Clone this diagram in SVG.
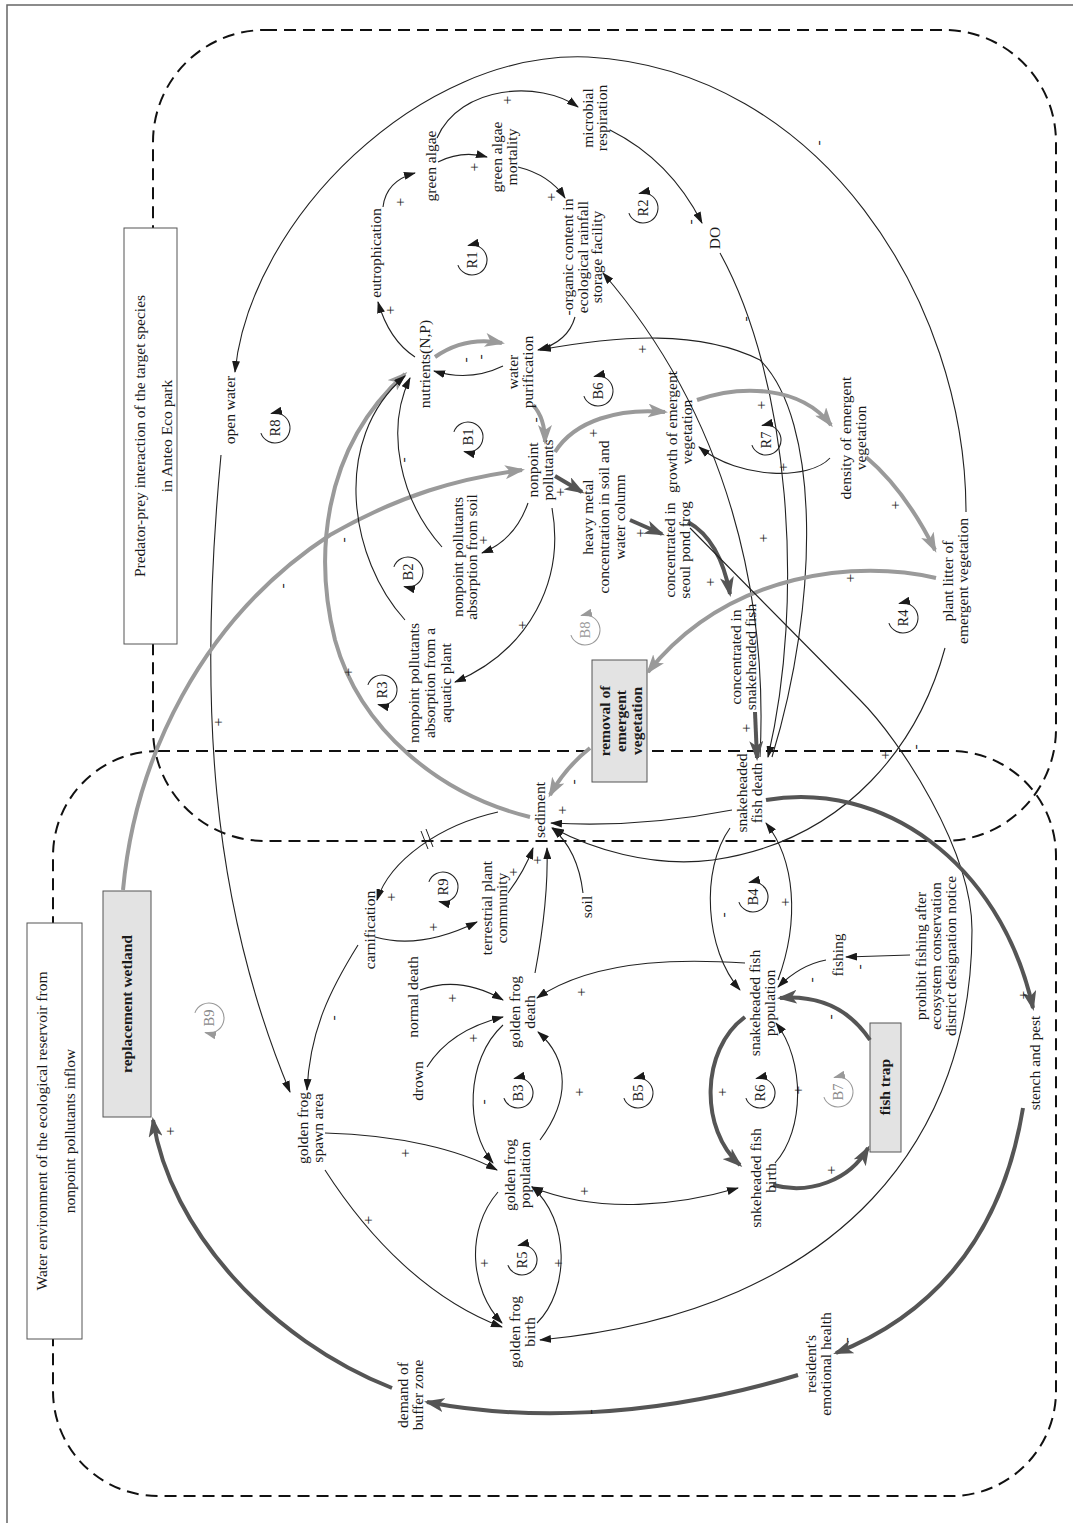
<svg xmlns="http://www.w3.org/2000/svg" width="1073" height="1523" viewBox="0 0 1073 1523">
<style>
.t{font-family:"Liberation Serif","Times New Roman",serif;font-size:15.5px;fill:#1a1a1a;text-anchor:middle}
.b{font-weight:bold}
.lp{font-size:14.5px}
.th{fill:none;stroke:#222;stroke-width:1.1;marker-end:url(#ah)}
.gr{fill:none;stroke:#9a9a9a;stroke-width:4;marker-end:url(#ag)}
.dk{fill:none;stroke:#555;stroke-width:4;marker-end:url(#ad)}
.ds{fill:none;stroke:#111;stroke-width:2;stroke-dasharray:12 7}
.box{fill:#fff;stroke:#555;stroke-width:1}
.gbox{fill:#e3e3e3;stroke:#555;stroke-width:1}
.lpa{fill:none;stroke:#222;stroke-width:1.1;marker-end:url(#ah)}
.lpg{fill:none;stroke:#999;stroke-width:1.1;marker-end:url(#ahg)}
</style>
<defs>
<marker id="ah" markerWidth="12" markerHeight="8" refX="11" refY="4" orient="auto" markerUnits="userSpaceOnUse"><path d="M0,0 L12,4 L0,8 z" fill="#1a1a1a"/></marker>
<marker id="ahs" markerWidth="12" markerHeight="8" refX="11" refY="4" orient="auto-start-reverse" markerUnits="userSpaceOnUse"><path d="M0,0 L12,4 L0,8 z" fill="#1a1a1a"/></marker>
<marker id="ahg" markerWidth="12" markerHeight="8" refX="11" refY="4" orient="auto" markerUnits="userSpaceOnUse"><path d="M0,0 L12,4 L0,8 z" fill="#999"/></marker>
<marker id="ag" markerWidth="20" markerHeight="14" refX="17" refY="7" orient="auto" markerUnits="userSpaceOnUse"><path d="M0,0 L20,7 L0,14 L5,7 z" fill="#9a9a9a"/></marker>
<marker id="ad" markerWidth="20" markerHeight="14" refX="17" refY="7" orient="auto" markerUnits="userSpaceOnUse"><path d="M0,0 L20,7 L0,14 L5,7 z" fill="#555"/></marker>
<path id="loopA" d="M-14.1,5.1 A15,15 0 1 0 -3.9,-14.5"/>
<path id="loopB" d="M-14.1,-5.1 A15,15 0 1 1 -3.9,14.5"/>
</defs>
<rect x="7" y="5" width="1070" height="1530" fill="#fff" stroke="#666" stroke-width="1.5"/>

<g id="regions">
<rect class="ds" x="153" y="30" width="903" height="811" rx="112" ry="112"/>
<rect class="ds" x="53" y="751" width="1003" height="745" rx="105" ry="105"/>
</g>

<g id="box-predator"><rect class="box" x="124" y="228" width="53" height="416"/>
<text class="t" transform="translate(145,436) rotate(-90)"><tspan x="0">Predator-prey interaction of the target species</tspan><tspan x="0" dy="27">in Anteo Eco park</tspan></text></g>
<g id="box-water"><rect class="box" x="27" y="923" width="55" height="416"/>
<text class="t" transform="translate(47,1131) rotate(-90)"><tspan x="0">Water environment of the ecological reservoir from</tspan><tspan x="0" dy="28">nonpoint pollutants inflow</tspan></text></g>
<g id="box-wetland"><rect class="gbox" x="103" y="891" width="48" height="226"/>
<text class="t b" transform="translate(132,1004) rotate(-90)">replacement wetland</text></g>
<g id="box-removal"><rect class="gbox" x="592" y="660" width="55" height="122"/>
<text class="t b" transform="translate(610,721) rotate(-90)"><tspan x="0">removal of</tspan><tspan x="0" dy="16">emergent</tspan><tspan x="0" dy="16">vegetation</tspan></text></g>
<g id="box-fishtrap"><rect class="gbox" x="870" y="1023" width="31" height="129"/>
<text class="t b" transform="translate(890,1087) rotate(-90)">fish trap</text></g>

<g id="connectors">
<path class="th" d="M383,207 Q386,181 415,173"/>
<path class="th" d="M415,357 Q389,340 378,302"/>
<path class="th" d="M438,162 Q462,150 487,157"/>
<path class="th" d="M437,138 C460,85 540,80 578,107"/>
<path class="th" d="M518,167 Q550,175 565,198"/>
<path class="th" d="M610,130 Q670,160 702,223"/>
<path class="th" d="M575,317 Q568,342 538,350"/>
<path class="th" d="M503,366 Q470,382 434,371"/>
<path class="gr" d="M435,357 Q465,336 502,343"/>
<path class="th" d="M966,512 C966,300 820,70 588,57 C420,50 250,220 235,372"/>
<path class="th" d="M221,455 C198,700 210,900 290,1092"/>
<path class="th" d="M720,253 C790,380 805,600 768,757"/>
<path class="th" d="M760,757 C768,600 730,420 603,273"/>
<path class="th" d="M772,757 C820,600 820,420 760,360 C700,330 620,335 540,350"/>
<path class="gr" d="M533,405 Q545,418 545,442"/>
<path class="gr" d="M555,452 C575,420 620,408 665,412"/>
<path class="gr" d="M697,400 C740,385 800,385 831,425"/>
<path class="th" d="M830,458 C810,480 740,480 699,447"/>
<path class="gr" d="M866,457 Q905,490 935,550"/>
<path class="gr" d="M936,578 C860,560 730,570 648,672"/>
<path class="gr" d="M590,748 Q565,768 550,795"/>
<path class="gr" d="M530,817 C440,795 360,730 335,640 C315,560 320,450 405,374"/>
<path class="gr" d="M123,890 C135,760 200,620 330,535 C400,495 460,478 522,470"/>
<path class="th" d="M528,503 Q515,540 482,553"/>
<path class="th" d="M442,547 C400,500 385,430 410,378"/>
<path class="th" d="M405,620 C350,560 330,440 405,376"/>
<path class="th" d="M552,508 C565,580 530,650 455,682"/>
<path class="dk" d="M555,476 L582,492"/>
<path class="dk" d="M630,520 L662,534"/>
<path class="dk" d="M688,522 Q720,540 730,594"/>
<path class="dk" d="M755,712 L757,758"/>
<path class="th" d="M690,528 L860,700 C900,740 972,850 972,930 C972,1130 850,1310 540,1340"/>
<path class="th" d="M945,648 C920,740 850,840 713,860 C650,868 590,848 553,828"/>
<path class="th" d="M732,810 Q640,828 551,823"/>
<path class="th" d="M583,893 Q578,850 552,828"/>
<path class="th" d="M508,893 Q525,870 533,848"/>
<path class="th" d="M535,973 C545,920 548,880 547,848"/>
<path class="th" d="M498,812 C440,825 390,860 377,900"/>
<path fill="none" stroke="#222" stroke-width="1" d="M421,831 L428,849 M426,829 L433,847"/>
<path class="th" d="M375,937 Q420,950 477,922"/>
<path class="th" d="M358,945 C330,990 310,1030 307,1090"/>
<path class="th" d="M325,1133 C400,1135 460,1150 497,1170"/>
<path class="th" d="M325,1170 C370,1240 430,1300 502,1327"/>
<path class="th" d="M420,990 Q460,975 503,1000"/>
<path class="th" d="M427,1067 Q450,1030 503,1017"/>
<path class="th" d="M503,1025 C465,1060 465,1130 493,1163"/>
<path class="th" d="M540,1140 C570,1100 570,1060 538,1032"/>
<path class="th" d="M498,1192 C465,1230 470,1290 502,1323"/>
<path class="th" d="M537,1323 C570,1290 570,1220 532,1187"/>
<path fill="none" stroke="#222" stroke-width="1.1" marker-start="url(#ahs)" marker-end="url(#ahs)" d="M532,1187 C600,1215 680,1205 738,1188"/>
<path class="th" d="M745,963 C700,960 600,955 537,998"/>
<path class="th" d="M730,828 C700,870 705,950 740,990"/>
<path class="th" d="M778,980 C800,920 795,860 766,823"/>
<path class="th" d="M826,960 Q800,965 778,987"/>
<path class="th" d="M910,955 L846,957"/>
<path class="dk" d="M870,1040 C850,1010 820,995 780,998"/>
<path class="dk" d="M745,1017 C700,1050 700,1130 740,1165"/>
<path class="th" d="M775,1163 C805,1130 805,1060 776,1023"/>
<path class="dk" d="M773,1185 C810,1195 850,1180 868,1148"/>
<path class="dk" d="M766,800 C880,780 1000,860 1033,1008"/>
<path class="dk" d="M1023,1108 C1000,1250 920,1320 836,1353"/>
<path class="dk" d="M798,1375 C650,1420 520,1420 427,1402"/>
<path class="dk" d="M392,1388 C270,1340 170,1230 153,1120"/>
</g>

<g id="signs" class="t">
<text transform="translate(405,202) rotate(-90)">+</text>
<text transform="translate(395,310) rotate(-90)">+</text>
<text transform="translate(479,167) rotate(-90)">+</text>
<text transform="translate(512,100) rotate(-90)">+</text>
<text transform="translate(556,197) rotate(-90)">+</text>
<text transform="translate(695,222) rotate(-90)">-</text>
<text transform="translate(470,360) rotate(-90)">-</text>
<text transform="translate(485,357) rotate(-90)">-</text>
<text transform="translate(823,143) rotate(-90)">-</text>
<text transform="translate(223,722) rotate(-90)">+</text>
<text transform="translate(750,319) rotate(-90)">-</text>
<text transform="translate(647,349) rotate(-90)">+</text>
<text transform="translate(768,538) rotate(-90)">+</text>
<text transform="translate(540,420) rotate(-90)">-</text>
<text transform="translate(598,433) rotate(-90)">+</text>
<text transform="translate(766,405) rotate(-90)">+</text>
<text transform="translate(788,467) rotate(-90)">+</text>
<text transform="translate(900,505) rotate(-90)">+</text>
<text transform="translate(855,578) rotate(-90)">+</text>
<text transform="translate(578,782) rotate(-90)">-</text>
<text transform="translate(353,672) rotate(-90)">+</text>
<text transform="translate(287,586) rotate(-90)">-</text>
<text transform="translate(488,540) rotate(-90)">+</text>
<text transform="translate(408,460) rotate(-90)">-</text>
<text transform="translate(348,540) rotate(-90)">-</text>
<text transform="translate(527,625) rotate(-90)">+</text>
<text transform="translate(565,492) rotate(-90)">+</text>
<text transform="translate(645,533) rotate(-90)">+</text>
<text transform="translate(715,582) rotate(-90)">+</text>
<text transform="translate(751,728) rotate(-90)">+</text>
<text transform="translate(920,747) rotate(-90)">-</text>
<text transform="translate(890,755) rotate(-90)">+</text>
<text transform="translate(567,810) rotate(-90)">+</text>
<text transform="translate(518,872) rotate(-90)">+</text>
<text transform="translate(542,860) rotate(-90)">+</text>
<text transform="translate(396,897) rotate(-90)">+</text>
<text transform="translate(438,927) rotate(-90)">+</text>
<text transform="translate(338,1018) rotate(-90)">-</text>
<text transform="translate(410,1153) rotate(-90)">+</text>
<text transform="translate(373,1220) rotate(-90)">+</text>
<text transform="translate(457,998) rotate(-90)">+</text>
<text transform="translate(478,1038) rotate(-90)">+</text>
<text transform="translate(488,1102) rotate(-90)">-</text>
<text transform="translate(584,1092) rotate(-90)">+</text>
<text transform="translate(489,1263) rotate(-90)">+</text>
<text transform="translate(563,1263) rotate(-90)">+</text>
<text transform="translate(589,1191) rotate(-90)">+</text>
<text transform="translate(586,992) rotate(-90)">+</text>
<text transform="translate(728,915) rotate(-90)">-</text>
<text transform="translate(790,902) rotate(-90)">+</text>
<text transform="translate(816,980) rotate(-90)">-</text>
<text transform="translate(864,967) rotate(-90)">-</text>
<text transform="translate(835,1017) rotate(-90)">-</text>
<text transform="translate(727,1092) rotate(-90)">+</text>
<text transform="translate(803,1090) rotate(-90)">+</text>
<text transform="translate(836,1170) rotate(-90)">+</text>
<text transform="translate(1028,995) rotate(-90)">+</text>
<text transform="translate(851,1340) rotate(-90)">-</text>
<text transform="translate(595,1412) rotate(-90)">-</text>
<text transform="translate(175,1131) rotate(-90)">+</text>
</g>

<g id="loops">
<g id="loop-R1"><use href="#loopA" class="lpa" transform="translate(472,260)"/><text class="t lp" transform="translate(477,260) rotate(-90)">R1</text></g>
<g id="loop-R2"><use href="#loopA" class="lpa" transform="translate(643,208)"/><text class="t lp" transform="translate(648,208) rotate(-90)">R2</text></g>
<g id="loop-B1"><use href="#loopB" class="lpa" transform="translate(468,437)"/><text class="t lp" transform="translate(473,437) rotate(-90)">B1</text></g>
<g id="loop-B2"><use href="#loopB" class="lpa" transform="translate(408,572)"/><text class="t lp" transform="translate(413,572) rotate(-90)">B2</text></g>
<g id="loop-R3"><use href="#loopB" class="lpa" transform="translate(382,690)"/><text class="t lp" transform="translate(387,690) rotate(-90)">R3</text></g>
<g id="loop-B8"><use href="#loopA" class="lpg" transform="translate(585,630)"/><text class="t lp" transform="translate(590,630) rotate(-90)" style="fill:#999">B8</text></g>
<g id="loop-B6"><use href="#loopA" class="lpa" transform="translate(598,391)"/><text class="t lp" transform="translate(603,391) rotate(-90)">B6</text></g>
<g id="loop-R7"><use href="#loopA" class="lpa" transform="translate(766,440)"/><text class="t lp" transform="translate(771,440) rotate(-90)">R7</text></g>
<g id="loop-R4"><use href="#loopA" class="lpa" transform="translate(903,618)"/><text class="t lp" transform="translate(908,618) rotate(-90)">R4</text></g>
<g id="loop-R8"><use href="#loopA" class="lpa" transform="translate(275,428)"/><text class="t lp" transform="translate(280,428) rotate(-90)">R8</text></g>
<g id="loop-R9"><use href="#loopB" class="lpa" transform="translate(443,887)"/><text class="t lp" transform="translate(448,887) rotate(-90)">R9</text></g>
<g id="loop-B3"><use href="#loopA" class="lpa" transform="translate(518,1093)"/><text class="t lp" transform="translate(523,1093) rotate(-90)">B3</text></g>
<g id="loop-B5"><use href="#loopA" class="lpa" transform="translate(638,1093)"/><text class="t lp" transform="translate(643,1093) rotate(-90)">B5</text></g>
<g id="loop-B4"><use href="#loopA" class="lpa" transform="translate(753,897)"/><text class="t lp" transform="translate(758,897) rotate(-90)">B4</text></g>
<g id="loop-R6"><use href="#loopA" class="lpa" transform="translate(760,1093)"/><text class="t lp" transform="translate(765,1093) rotate(-90)">R6</text></g>
<g id="loop-B7"><use href="#loopA" class="lpg" transform="translate(838,1092)"/><text class="t lp" transform="translate(843,1092) rotate(-90)" style="fill:#888">B7</text></g>
<g id="loop-R5"><use href="#loopA" class="lpa" transform="translate(522,1260)"/><text class="t lp" transform="translate(527,1260) rotate(-90)">R5</text></g>
<g id="loop-B9"><use href="#loopB" class="lpg" transform="translate(209,1018)"/><text class="t lp" transform="translate(214,1018) rotate(-90)" style="fill:#888">B9</text></g>
</g>

<g id="nodes">
<g id="n-eutro"><text class="t" transform="translate(381,253) rotate(-90)">eutrophication</text></g>
<g id="n-algae"><text class="t" transform="translate(436,166) rotate(-90)">green algae</text></g>
<g id="n-mort"><text class="t" transform="translate(502,157) rotate(-90)"><tspan x="0">green algae</tspan><tspan x="0" dy="15">mortality</tspan></text></g>
<g id="n-micro"><text class="t" transform="translate(593,118) rotate(-90)"><tspan x="0">microbial</tspan><tspan x="0" dy="14">respiration</tspan></text></g>
<g id="n-org"><text class="t" transform="translate(573,257) rotate(-90)"><tspan x="0">-organic content in</tspan><tspan x="0" dy="14.5">ecological rainfall</tspan><tspan x="0" dy="14.5">storage facility</tspan></text></g>
<g id="n-do"><text class="t" transform="translate(720,238) rotate(-90)">DO</text></g>
<g id="n-nut"><text class="t" transform="translate(430,364) rotate(-90)">nutrients(N,P)</text></g>
<g id="n-wp"><text class="t" transform="translate(518,372) rotate(-90)"><tspan x="0">water</tspan><tspan x="0" dy="15">purification</tspan></text></g>
<g id="n-np"><text class="t" transform="translate(538,470) rotate(-90)"><tspan x="0">nonpoint</tspan><tspan x="0" dy="15">pollutants</tspan></text></g>
<g id="n-soilabs"><text class="t" transform="translate(463,557) rotate(-90)"><tspan x="0">nonpoint pollutants</tspan><tspan x="0" dy="14">absorption from soil</tspan></text></g>
<g id="n-aqabs"><text class="t" transform="translate(419,683) rotate(-90)"><tspan x="0">nonpoint pollutants</tspan><tspan x="0" dy="16">absorption from a</tspan><tspan x="0" dy="16">aquatic plant</tspan></text></g>
<g id="n-hm"><text class="t" transform="translate(593,517) rotate(-90)"><tspan x="0">heavy metal</tspan><tspan x="0" dy="16">concentration in soil and</tspan><tspan x="0" dy="16">water column</tspan></text></g>
<g id="n-frogconc"><text class="t" transform="translate(675,550) rotate(-90)"><tspan x="0">concentrated in</tspan><tspan x="0" dy="15">seoul pond frog</tspan></text></g>
<g id="n-growth"><text class="t" transform="translate(677,432) rotate(-90)"><tspan x="0">growth of emergent</tspan><tspan x="0" dy="15">vegetation</tspan></text></g>
<g id="n-density"><text class="t" transform="translate(851,438) rotate(-90)"><tspan x="0">density of emergent</tspan><tspan x="0" dy="15">vegetation</tspan></text></g>
<g id="n-litter"><text class="t" transform="translate(953,581) rotate(-90)"><tspan x="0">plant litter of</tspan><tspan x="0" dy="15">emergent vegetation</tspan></text></g>
<g id="n-fishconc"><text class="t" transform="translate(741,657) rotate(-90)"><tspan x="0">concentrated in</tspan><tspan x="0" dy="15">snakeheaded fish</tspan></text></g>
<g id="n-fdeath"><text class="t" transform="translate(747,793) rotate(-90)"><tspan x="0">snakeheaded</tspan><tspan x="0" dy="15">fish death</tspan></text></g>
<g id="n-sed"><text class="t" transform="translate(545,810) rotate(-90)">sediment</text></g>
<g id="n-carn"><text class="t" transform="translate(375,930) rotate(-90)">carnification</text></g>
<g id="n-terr"><text class="t" transform="translate(492,908) rotate(-90)"><tspan x="0">terrestrial plant</tspan><tspan x="0" dy="15">community</tspan></text></g>
<g id="n-soil"><text class="t" transform="translate(592,907) rotate(-90)">soil</text></g>
<g id="n-normal"><text class="t" transform="translate(418,997) rotate(-90)">normal death</text></g>
<g id="n-gdeath"><text class="t" transform="translate(520,1012) rotate(-90)"><tspan x="0">golden frog</tspan><tspan x="0" dy="15">death</tspan></text></g>
<g id="n-drown"><text class="t" transform="translate(423,1081) rotate(-90)">drown</text></g>
<g id="n-fishing"><text class="t" transform="translate(843,955) rotate(-90)">fishing</text></g>
<g id="n-prohibit"><text class="t" transform="translate(926,956) rotate(-90)"><tspan x="0">prohibit fishing after</tspan><tspan x="0" dy="15">ecosystem conservation</tspan><tspan x="0" dy="15">district designation notice</tspan></text></g>
<g id="n-fpop"><text class="t" transform="translate(760,1003) rotate(-90)"><tspan x="0">snakeheaded fish</tspan><tspan x="0" dy="15">population</tspan></text></g>
<g id="n-stench"><text class="t" transform="translate(1040,1063) rotate(-90)">stench and pest</text></g>
<g id="n-gpop"><text class="t" transform="translate(515,1175) rotate(-90)"><tspan x="0">golden frog</tspan><tspan x="0" dy="15">population</tspan></text></g>
<g id="n-gbirth"><text class="t" transform="translate(520,1332) rotate(-90)"><tspan x="0">golden frog</tspan><tspan x="0" dy="15">birth</tspan></text></g>
<g id="n-demand"><text class="t" transform="translate(408,1395) rotate(-90)"><tspan x="0">demand of</tspan><tspan x="0" dy="15">buffer zone</tspan></text></g>
<g id="n-spawn"><text class="t" transform="translate(308,1128) rotate(-90)"><tspan x="0">golden frog</tspan><tspan x="0" dy="15">spawn area</tspan></text></g>
<g id="n-open"><text class="t" transform="translate(235,410) rotate(-90)">open water</text></g>
<g id="n-fbirth"><text class="t" transform="translate(761,1178) rotate(-90)"><tspan x="0">snkeheaded fish</tspan><tspan x="0" dy="15">birth</tspan></text></g>
<g id="n-resident"><text class="t" transform="translate(816,1364) rotate(-90)"><tspan x="0">resident's</tspan><tspan x="0" dy="15">emotional health</tspan></text></g>
</g>
</svg>
